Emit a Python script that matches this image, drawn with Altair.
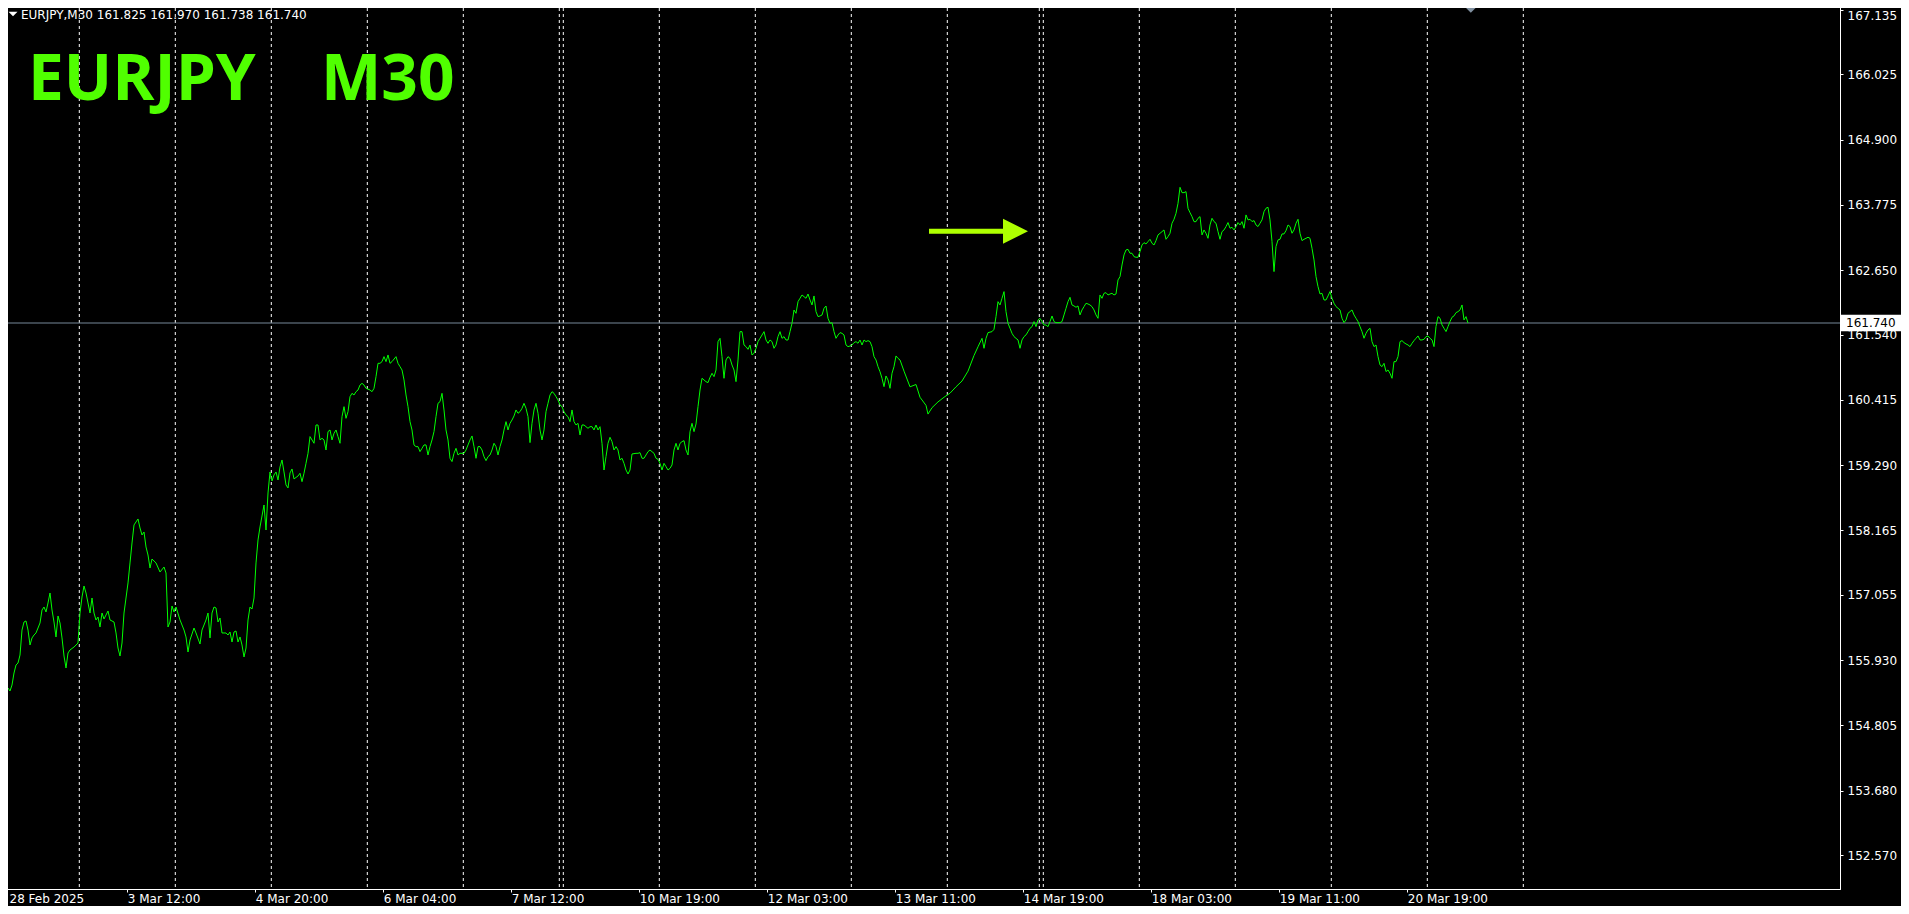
import altair as alt
import pandas as pd

# ---------------- data: (bar index on the M30 chart, close price) ----------------
seg_feb28_mar4 = [(0,155.213),(1,155.362),(2,155.414),(4,155.449),(5,155.397),(6,155.500),(7,155.707),(8,155.845),(9,155.879),(10,156.017),(11,156.448),(12,156.586),(13,156.604),(14,156.448),(15,156.190),(16,156.311),(17,156.362),(18,156.397),(20,156.569),(21,156.793),(22,156.845),(23,156.759),(24,156.914),(25,157.086),(26,156.793),(27,156.586),(28,156.328),(29,156.690),(30,156.569),(31,156.311),(32,156.000),(33,155.793),(34,156.052),(35,156.104),(37,156.155),(39,156.224),(40,156.741),(41,157.017),(42,157.207),(43,157.086),(44,156.914),(45,156.741),(46,157.000),(47,156.741),(48,156.621),(49,156.672),(50,156.500),(51,156.741),(52,156.638),(54,156.776),(55,156.621),(57,156.586),(58,156.397),(59,156.138),(60,156.000),(61,156.224),(62,156.741),(64,157.259),(65,157.604),(66,157.948),(67,158.259),(69,158.362),(70,158.207),(71,158.086),(72,158.138),(73,157.879),(74,157.741),(75,157.517),(76,157.672),(78,157.604),(80,157.448),(82,157.534),(83,157.431),(84,156.500),(85,156.586),(86,156.862),(87,156.759),(88,156.845),(90,156.621),(92,156.448),(93,156.328),(94,156.069),(95,156.276),(97,156.483),(98,156.397),(100,156.207),(101,156.448),(103,156.621),(104,156.741),(105,156.311),(106,156.741),(107,156.845),(108,156.828),(109,156.586),(110,156.655),(111,156.397),(113,156.397),(114,156.362),(115,156.414),(116,156.241),(117,156.414),(118,156.431),(119,156.241),(120,156.328),(121,156.190),(122,155.983),(123,156.138),(124,156.621),(125,156.845),(126,156.810),(127,157.000),(128,157.604),(129,158.000),(130,158.224),(132,158.603),(133,158.172),(134,158.810),(135,159.172),(136,159.017),(137,159.121),(138,159.172),(139,159.034),(140,159.259),(141,159.379),(142,159.172),(143,158.948),(144,158.897),(145,159.155),(146,159.224),(147,159.052),(149,159.103)]

seg_mar5_mar10 = [(150,159.150),(151,159.005),(152,159.150),(153,159.322),(154,159.494),(155,159.782),(157,159.667),(158,159.982),(159,159.982),(160,159.724),(161,159.753),(162,159.724),(163,159.551),(164,159.868),(165,159.896),(166,159.724),(167,159.839),(168,159.896),(169,159.782),(170,159.667),(171,160.126),(172,160.298),(173,160.097),(174,160.212),(175,160.470),(176,160.528),(177,160.499),(178,160.556),(179,160.585),(180,160.671),(181,160.700),(182,160.671),(183,160.614),(185,160.585),(186,160.556),(187,160.614),(188,160.815),(189,161.045),(190,161.045),(191,161.074),(192,161.160),(193,161.074),(194,161.189),(195,161.045),(196,161.074),(198,161.160),(199,161.045),(200,160.988),(201,160.930),(202,160.758),(203,160.499),(204,160.298),(205,160.040),(206,159.896),(207,159.638),(208,159.609),(209,159.609),(210,159.523),(211,159.580),(212,159.638),(213,159.638),(214,159.465),(215,159.609),(216,159.724),(217,159.868),(218,160.126),(219,160.356),(220,160.384),(221,160.528),(222,160.241),(223,159.896),(224,159.724),(225,159.408),(226,159.351),(227,159.494),(228,159.580),(229,159.465),(230,159.494),(232,159.494),(233,159.551),(234,159.638),(235,159.724),(236,159.793),(237,159.609),(238,159.408),(239,159.609),(240,159.609),(241,159.551),(242,159.436),(243,159.367),(244,159.436),(245,159.465),(246,159.551),(247,159.667),(248,159.609),(249,159.465),(250,159.609),(251,159.724),(252,159.896),(253,160.040),(254,159.896),(255,160.011),(256,160.068),(257,160.137),(258,160.241),(259,160.184),(260,160.212),(261,160.270),(262,160.356),(263,160.270),(264,160.126),(265,159.678),(266,160.011),(267,160.241),(268,160.356),(269,160.184),(270,159.896),(271,159.724),(272,159.896),(273,160.212),(274,160.356),(275,160.499),(276,160.556),(277,160.528),(278,160.470),(279,160.413),(280,160.327),(281,160.298),(282,160.212),(283,160.155),(284,160.125),(285,160.039),(286,160.241),(287,160.039),(288,159.982),(289,160.011),(290,159.810),(291,159.982),(292,159.982),(293,159.953),(294,159.925),(295,159.953),(296,159.953),(297,159.896),(298,159.982),(299,159.896),(300,159.953),(301,159.666),(302,159.206)]

seg_mar10_mar13 = [(303,159.436),(304,159.666),(305,159.770),(306,159.695),(307,159.551),(308,159.609),(309,159.551),(310,159.379),(311,159.408),(312,159.321),(313,159.206),(314,159.137),(315,159.206),(316,159.482),(318,159.494),(319,159.494),(320,159.505),(321,159.408),(322,159.408),(323,159.465),(324,159.522),(325,159.551),(326,159.522),(327,159.494),(328,159.408),(329,159.390),(330,159.321),(331,159.206),(332,159.321),(333,159.264),(334,159.206),(335,159.235),(336,159.293),(337,159.551),(338,159.666),(339,159.551),(340,159.666),(341,159.695),(342,159.712),(343,159.551),(344,159.465),(345,159.867),(346,160.011),(347,159.867),(348,160.000),(349,160.298),(350,160.585),(351,160.787),(352,160.758),(353,160.729),(354,160.712),(355,160.804),(356,160.873),(357,160.815),(358,160.930),(359,161.419),(360,161.476),(361,161.160),(362,160.787),(363,161.103),(364,161.160),(365,161.131),(366,161.016),(367,160.930),(368,160.729),(369,161.103),(370,161.591),(371,161.591),(372,161.361),(373,161.332),(374,161.286),(375,161.361),(376,161.189),(377,161.218),(378,161.304),(379,161.419),(380,161.476),(381,161.533),(382,161.591),(383,161.447),(384,161.390),(385,161.447),(386,161.419),(387,161.304),(388,161.361),(389,161.505),(390,161.591),(391,161.476),(392,161.505),(393,161.447),(394,161.447),(395,161.591),(396,161.735),(397,161.964),(398,161.907),(399,162.108),(400,162.166),(401,162.223),(402,162.194),(403,162.166),(404,162.240),(405,162.137),(406,162.051),(407,162.206),(408,161.936),(409,161.850),(410,161.861),(411,161.878),(412,161.993),(413,162.033),(414,161.821),(415,161.735),(416,161.746),(417,161.591),(418,161.476),(419,161.533),(420,161.574),(421,161.562),(422,161.533),(423,161.361),(424,161.332),(425,161.344),(426,161.361),(427,161.401),(428,161.419),(429,161.390),(430,161.447),(431,161.361),(432,161.447),(433,161.419),(434,161.436),(435,161.419),(436,161.332),(437,161.160),(438,161.103),(439,160.988),(440,160.901),(441,160.787),(442,160.643),(443,160.827),(444,160.758),(445,160.614),(446,160.873),(447,160.988),(448,161.172),(449,161.131),(450,161.103)]

seg_mar13_mar14 = [(452,160.91),(455,160.64),(458,160.68),(460,160.46),(463,160.32),(464,160.17),(466,160.28),(469,160.38),(472,160.46),(475,160.53),(478,160.64),(481,160.74),(484,160.91),(487,161.18),(489,161.33)]

seg_mar14_mar18 = [(491,161.476),(492,161.304),(493,161.476),(494,161.574),(496,161.591),(497,161.631),(498,161.850),(499,162.108),(500,162.051),(501,162.166),(502,162.281),(503,161.936),(504,161.735),(505,161.649),(506,161.562),(507,161.505),(508,161.476),(509,161.448),(510,161.304),(511,161.448),(512,161.505),(513,161.534),(514,161.591),(515,161.649),(516,161.677),(517,161.764),(518,161.677),(519,161.792),(520,161.821),(521,161.764),(522,161.706),(523,161.706),(524,161.677),(525,161.764),(526,161.861),(527,161.764),(528,161.746),(530,161.746),(531,161.764),(532,161.879),(533,161.993),(534,162.108),(535,162.183),(536,162.051),(537,162.034),(538,162.011),(539,162.034),(540,161.879),(541,161.965),(542,162.022),(543,162.080),(544,162.068),(545,162.051),(546,162.022),(547,161.965),(548,161.879),(549,161.821),(550,162.223),(551,162.166),(552,162.252),(553,162.263),(554,162.223),(555,162.240),(556,162.252),(557,162.223),(558,162.240),(559,162.482),(560,162.539),(561,162.740),(562,162.913),(563,162.999),(564,163.010),(565,162.942),(566,162.942),(567,162.884),(568,162.873),(569,162.873),(570,162.970),(571,163.085),(572,163.125),(573,163.102),(574,163.143),(575,163.183),(576,163.114),(577,163.085),(578,163.160),(579,163.258),(580,163.286),(581,163.315),(582,163.344),(583,163.183),(584,163.229),(585,163.286),(586,163.459),(587,163.528),(588,163.631),(589,163.803),(590,164.079),(591,163.987),(592,163.987),(593,164.005),(594,163.717),(595,163.642),(596,163.574),(597,163.487),(598,163.487),(599,163.545),(600,163.574)]

seg_mar18_mar21 = [(601,163.258),(602,163.344),(603,163.287),(604,163.200),(605,163.430),(606,163.545),(607,163.488),(608,163.459),(609,163.315),(610,163.183),(611,163.315),(612,163.344),(613,163.402),(614,163.471),(615,163.373),(616,163.390),(617,163.344),(618,163.402),(619,163.471),(620,163.430),(621,163.488),(622,163.373),(623,163.603),(624,163.517),(625,163.528),(626,163.488),(627,163.505),(628,163.430),(629,163.402),(630,163.459),(631,163.517),(632,163.660),(633,163.718),(634,163.735),(635,163.517),(636,163.143),(637,162.626),(638,163.057),(639,163.172),(640,163.183),(641,163.275),(642,163.275),(643,163.333),(644,163.430),(645,163.402),(646,163.287),(647,163.344),(648,163.459),(649,163.528),(650,163.287),(651,163.160),(652,163.183),(653,163.200),(654,163.218),(655,163.200),(656,163.028),(657,162.827),(658,162.540),(659,162.367),(660,162.241),(661,162.252),(662,162.137),(663,162.137),(664,162.206),(665,162.281),(666,162.166),(667,162.080),(668,162.023),(669,161.994),(670,161.965),(671,161.822),(672,161.747),(673,161.793),(674,161.908),(675,161.936),(676,161.965),(677,161.879),(678,161.822),(679,161.764),(680,161.678),(681,161.592),(682,161.477),(683,161.563),(684,161.620),(685,161.649),(686,161.419),(687,161.333),(688,161.361),(689,161.161),(690,161.017),(691,160.988),(692,161.045),(693,160.902),(694,160.931),(695,160.873),(696,160.787),(697,161.074),(698,161.074),(699,161.161),(700,161.419),(701,161.436),(702,161.402),(703,161.379),(704,161.362),(705,161.333),(706,161.390),(707,161.436),(708,161.477),(709,161.517),(710,161.448),(711,161.448),(712,161.459),(713,161.505),(714,161.517),(715,161.477),(716,161.448),(717,161.333),(718,161.678),(719,161.850),(720,161.822),(721,161.707),(722,161.649),(723,161.592),(724,161.678),(725,161.764),(726,161.839),(727,161.862),(728,161.919),(729,161.936),(730,161.965),(731,162.051),(732,161.793),(733,161.850),(734,161.740)]

# day / period separators (bar positions)
separator_bars = [39.65, 87.65, 135.65, 183.65, 231.65, 279.65, 281.65, 329.65, 377.65, 425.65,
                  473.65, 519.65, 521.65, 569.65, 617.65, 665.65, 713.65, 761.65]

# time axis ticks
x_tick_bars = [0, 63.65, 127.65, 191.65, 255.65, 319.65, 383.65, 447.65, 511.65, 575.65, 639.65, 703.65]
x_tick_labels = ["28 Feb 2025", "3 Mar 12:00", "4 Mar 20:00", "6 Mar 04:00", "7 Mar 12:00", "10 Mar 19:00",
                 "12 Mar 03:00", "13 Mar 11:00", "14 Mar 19:00", "18 Mar 03:00", "19 Mar 11:00", "20 Mar 19:00"]

# price axis ticks
y_ticks = [152.570, 153.680, 154.805, 155.930, 157.055, 158.165, 159.290, 160.415,
           161.540, 162.650, 163.775, 164.900, 166.025, 167.135]

current_price = [161.740]
header_text = "EURJPY,M30  161.825 161.970 161.738 161.740"

# arrow annotation (bar positions and price level)
arrow_shaft = {"start": [464.5], "end": [502.0], "price": [163.321]}
arrow_head = {"bar": [507.75], "price": [163.321]}
shift_marker_bar = [735.4]

# ---------------- chart ----------------
W, H = 1840, 887
Y_DOMAIN = [151.984, 167.273]
X_DOMAIN = [0, 920]

pairs = seg_feb28_mar4 + seg_mar5_mar10 + seg_mar10_mar13 + seg_mar13_mar14 + seg_mar14_mar18 + seg_mar18_mar21
df = pd.DataFrame({"bar": [p[0] for p in pairs], "close": [p[1] for p in pairs]})

xs = alt.Scale(domain=X_DOMAIN, nice=False, zero=False)
ys = alt.Scale(domain=Y_DOMAIN, nice=False, zero=False)

FONT = "DejaVu Sans"

label_expr = "{}[indexof({}, datum.value)]".format(
    "[" + ",".join("'" + s + "'" for s in x_tick_labels) + "]",
    "[" + ",".join(str(v) for v in x_tick_bars) + "]",
)

x_axis = alt.Axis(values=x_tick_bars, labelExpr=label_expr, orient="bottom", title=None, grid=False,
                  labelAlign="left", labelBaseline="top", labelPadding=1, labelFont=FONT, labelFontSize=12,
                  labelOffset={"condition": {"test": "datum.value < 1", "value": 9}, "value": 0},
                  labelColor="white", tickColor="white", tickSize=3, domainColor="white",
                  labelOverlap=False, labelFlush=False, labelBound=False)
y_axis = alt.Axis(values=y_ticks, format=".3f", orient="right", title=None, grid=False,
                  labelAlign="left", labelPadding=4, labelFont=FONT, labelFontSize=12,
                  labelBaseline={"condition": {"test": "datum.value > 167", "value": "top"}, "value": "middle"},
                  labelColor="white", tickColor="white", tickSize=3, domainColor="white",
                  labelOverlap=False, labelFlush=False, labelBound=False)

base = alt.Chart(df)

price_line = base.mark_line(color="#00FF00", strokeWidth=1, interpolate="linear").encode(
    x=alt.X("bar:Q", scale=xs, axis=x_axis),
    y=alt.Y("close:Q", scale=ys, axis=y_axis),
)

seps = alt.Chart(pd.DataFrame({"bar": separator_bars})).mark_rule(
    color="white", strokeDash=[3, 3], strokeWidth=1
).encode(x=alt.X("bar:Q", scale=xs))

cur_df = pd.DataFrame({"price": current_price, "label": [f"{current_price[0]:.3f}"]})
cur_line = alt.Chart(cur_df).mark_rule(color="#778899", strokeWidth=1).encode(
    y=alt.Y("price:Q", scale=ys)
)
cur_box = alt.Chart(cur_df).mark_point(
    shape="M-1,-0.27L1,-0.27L1,0.27L-1,0.27Z", filled=True, color="white", opacity=1, size=3844, strokeWidth=0
).encode(x=alt.value(W + 32), y=alt.Y("price:Q", scale=ys))
cur_text = alt.Chart(cur_df).mark_text(
    align="left", baseline="middle", font=FONT, fontSize=12, color="black"
).encode(x=alt.value(W + 6), y=alt.Y("price:Q", scale=ys), text="label:N")

shaft = alt.Chart(pd.DataFrame(arrow_shaft)).mark_rule(color="#AEFF00", strokeWidth=5).encode(
    x=alt.X("start:Q", scale=xs), x2="end:Q", y=alt.Y("price:Q", scale=ys)
)
head = alt.Chart(pd.DataFrame(arrow_head)).mark_point(
    shape="M-1,-1L1,0L-1,1Z", filled=True, color="#AEFF00", opacity=1, size=625, strokeWidth=0
).encode(x=alt.X("bar:Q", scale=xs), y=alt.Y("price:Q", scale=ys))

shift_marker = alt.Chart(pd.DataFrame({"bar": shift_marker_bar})).mark_point(
    shape="M-1,-0.5L1,-0.5L0,0.5Z", filled=True, color="#8090A0", opacity=1, size=120, strokeWidth=0
).encode(x=alt.X("bar:Q", scale=xs), y=alt.value(8))

hdr_df = pd.DataFrame({"t": [header_text]})
header = alt.Chart(hdr_df).mark_text(
    align="left", baseline="middle", font=FONT, fontSize=12, color="white"
).encode(x=alt.value(21), y=alt.value(13), text="t:N")
tri = alt.Chart(hdr_df).mark_point(
    shape="M-1,-0.5L1,-0.5L0,0.5Z", filled=True, color="white", opacity=1, size=81, strokeWidth=0
).encode(x=alt.value(13), y=alt.value(12))

title_df = pd.DataFrame({"sym": ["EURJPY"], "tf": ["M30"]})
title_sym = alt.Chart(title_df).mark_text(
    align="left", baseline="alphabetic", font="Open Sans", fontSize=64, fontWeight="bold", color="#50FF00"
).encode(x=alt.value(28), y=alt.value(98), text="sym:N")
title_tf = alt.Chart(title_df).mark_text(
    align="left", baseline="alphabetic", font="Open Sans", fontSize=64, fontWeight="bold", color="#50FF00"
).encode(x=alt.value(321), y=alt.value(98), text="tf:N")

chart = alt.layer(
    seps, cur_line, price_line, shaft, head, shift_marker, header, tri, title_sym, title_tf, cur_box, cur_text
).properties(
    width=W, height=H,
    autosize=alt.AutoSizeParams(type="none"),
    padding={"left": -8, "top": -6, "right": 61, "bottom": 17},
    background="black",
).configure_view(stroke="white", strokeWidth=1, fill="black")

chart.save("out.html", embed_options={"renderer": "svg", "actions": False})
